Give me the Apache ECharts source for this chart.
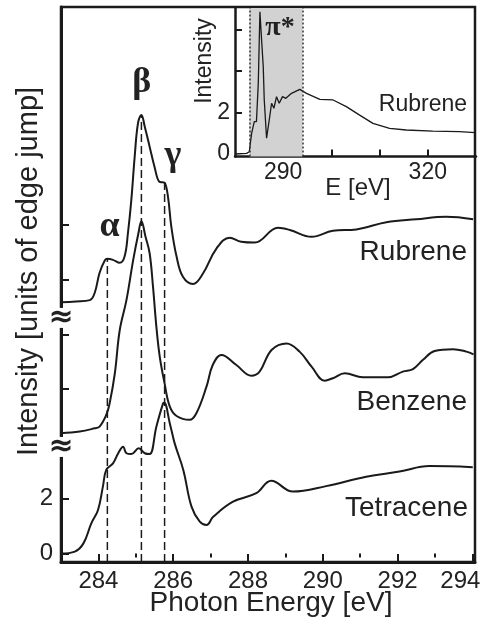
<!DOCTYPE html>
<html>
<head>
    <meta charset="utf-8">
    <title>NEXAFS spectra</title>
    <script type="text/javascript" src="https://cdn.jsdelivr.net/npm/echarts@6/dist/echarts.min.js"></script>
</head>
<style type="text/css">
    html, body { margin: 0; padding: 0; background: #fff; }
    #chart { width: 485px; height: 629px; }
</style>
<body>
    <div id="chart"></div>
    <script type="text/javascript">
        // main panel, intensity in units of edge jump (before offset)
        var tetraceneE = [283.0, 283.37, 283.6, 283.81, 283.99, 284.12, 284.21, 284.39, 284.53, 284.66, 284.75, 284.88, 285.08, 285.24, 285.37, 285.55, 285.73, 285.76, 285.91, 286.04, 286.27, 286.49, 286.71, 286.89, 287.07, 287.6, 288.22, 288.62, 289.2, 290.09, 291.16, 292.05, 292.85, 294.01];
        var tetraceneI = [0, 0.07, 0.37, 1.1, 1.59, 2.44, 3.05, 3.29, 3.66, 3.9, 3.66, 3.63, 3.84, 3.66, 3.63, 4.63, 5.48, 5.5, 4.75, 4.02, 3.05, 1.71, 1.16, 1.04, 1.34, 1.89, 2.2, 2.66, 2.26, 2.46, 2.8, 2.99, 3.19, 3.15];

        var benzeneE = [283.0, 283.5, 283.9, 284.03, 284.21, 284.3, 284.44, 284.57, 284.75, 284.93, 285.07, 285.15, 285.26, 285.37, 285.46, 285.55, 285.64, 285.77, 285.91, 286.09, 286.44, 286.62, 286.89, 287.06, 287.29, 287.69, 288.09, 288.31, 288.63, 289.03, 289.38, 289.7, 290.05, 290.27, 290.59, 291.07, 291.74, 292.14, 292.41, 292.68, 292.99, 293.48, 293.84, 294.03];
        var benzeneI = [0, 0.06, 0.18, 0.24, 0.67, 1.09, 2.19, 3.76, 4.86, 6.32, 7.3, 7.74, 7.17, 6.57, 5.35, 3.89, 2.8, 1.82, 0.97, 0.63, 0.49, 0.73, 1.7, 2.5, 2.86, 2.49, 2.1, 2.25, 3.04, 3.28, 2.98, 2.43, 1.92, 2.01, 2.19, 2.04, 2.04, 2.25, 2.34, 2.68, 3.0, 3.07, 2.98, 2.88];

        var rubreneE = [283.0, 283.4, 283.77, 283.9, 284.03, 284.17, 284.24, 284.39, 284.57, 284.7, 284.79, 284.88, 284.97, 285.06, 285.15, 285.24, 285.37, 285.5, 285.63, 285.72, 285.77, 285.86, 285.95, 286.09, 286.26, 286.53, 286.8, 287.16, 287.51, 287.82, 288.18, 288.8, 289.12, 289.7, 290.27, 290.9, 291.7, 292.5, 293.3, 294.02];
        var rubreneI = [0, 0.03, 0.08, 0.34, 1.07, 1.53, 1.59, 1.55, 1.44, 1.67, 2.53, 3.73, 5.31, 6.55, 6.84, 6.41, 5.68, 4.95, 4.4, 4.38, 4.37, 3.86, 2.76, 1.67, 0.93, 0.67, 1.06, 1.97, 2.36, 2.21, 2.18, 2.72, 2.64, 2.39, 2.61, 2.66, 2.92, 3.03, 3.12, 3.03];

        // vertical offsets of the stacked spectra
        var tetraceneOffset = 0;
        var benzeneOffset = 4.39;
        var rubreneOffset = 9.17;

        // resonances alpha, beta, gamma
        var peakNames = ['α', 'β', 'γ'];
        var peakE = [284.24, 285.15, 285.77];

        // inset: wide range rubrene spectrum
        var insetE = [280, 282.41, 282.96, 283.45, 284.0, 284.45, 284.83, 285.17, 285.52, 285.86, 286.07, 286.55, 287.1, 287.59, 288.07, 288.62, 289.17, 289.86, 290.55, 291.72, 293.45, 294.83, 297.6, 300.34, 303.1, 305.86, 308.62, 312.07, 315.52, 321.03, 326.55, 329.86];
        var insetI = [0, 0.03, 0.11, 1.0, 1.56, 1.56, 3.41, 6.87, 5.5, 4.22, 2.61, 0.76, 1.64, 2.45, 2.21, 2.77, 2.45, 2.77, 2.69, 2.93, 3.12, 2.93, 2.64, 2.61, 2.29, 1.88, 1.48, 1.24, 1.16, 1.11, 1.08, 1.03];
        var piStarRange = [283, 294];

        var xTicks = [284, 286, 288, 290, 292, 294];
        var xMinorTicks = [285, 287, 289, 291, 293];
        var yTicks = [0, 2, 6, 8, 10, 12];
        var yLabels = [0, 2];
        var breakValues = [3.89, 8.6];
        var insetXTicks = [290, 300, 310, 320];
        var insetXLabels = [290, 320];
        var insetYTicks = [2, 4, 6];
        var insetYLabels = [0, 2];

        function zip(xs, ys, off) {
            return xs.map(function (x, i) { return [x, ys[i] + (off || 0)]; });
        }

        var ink = '#1a1a1a';
        var sans = 'Liberation Sans, Arial, sans-serif';
        var serif = 'Liberation Serif, Times New Roman, serif';
        var yMin = -0.31;

        var dashSeries = peakE.map(function (e) {
            var top = rubreneI[rubreneE.indexOf(e)] + rubreneOffset;
            return {
                type: 'line', xAxisIndex: 0, yAxisIndex: 0, symbol: 'none', silent: true, z: 1,
                data: [[e, yMin], [e, top]],
                lineStyle: { color: ink, width: 1.5, type: [8, 4] }
            };
        });

        function spectrum(xs, ys, off) {
            return {
                type: 'line', xAxisIndex: 0, yAxisIndex: 0, symbol: 'none', z: 3,
                smooth: 0.4,
                data: zip(xs, ys, off),
                lineStyle: { color: ink, width: 2 }
            };
        }

        var chart = echarts.init(document.getElementById('chart'));

        var option = {
            animation: false,
            backgroundColor: '#fff',
            grid: [
                { left: 61, right: 10, top: 7, bottom: 67, outerBoundsMode: 'none', containLabel: false,
                  show: true, borderColor: ink, borderWidth: 2.5, backgroundColor: 'transparent' },
                { left: 235, right: 9, top: 8, bottom: 472.5, outerBoundsMode: 'none', containLabel: false }
            ],
            xAxis: [{
                gridIndex: 0, type: 'value', min: 283, max: 294.07,
                axisLine: { onZero: false, lineStyle: { color: ink, width: 3 } },
                axisTick: { inside: true, length: 8, customValues: xTicks, lineStyle: { color: ink, width: 2 } },
                axisLabel: {
                    customValues: xTicks, margin: 7, fontSize: 24, fontFamily: sans, color: '#222',
                    // last label is pulled inside the frame, as in the original
                    formatter: function (v) { return v === 294 ? '{last|294}' : String(v); },
                    rich: { last: { fontSize: 24, fontFamily: sans, color: '#222', padding: [0, 24, 0, 0] } }
                },
                splitLine: { show: false }
            }, {
                gridIndex: 0, type: 'value', min: 283, max: 294.07,
                axisLine: { show: false },
                axisTick: { inside: true, length: 4, customValues: xMinorTicks, lineStyle: { color: ink, width: 2 } },
                axisLabel: { show: false },
                splitLine: { show: false }
            }, {
                gridIndex: 1, type: 'value', min: 280, max: 330,
                axisLine: { onZero: false, lineStyle: { color: ink, width: 2.5 } },
                axisTick: { inside: true, length: 7, customValues: insetXTicks, lineStyle: { color: ink, width: 2 } },
                axisLabel: { customValues: insetXLabels, margin: 5, fontSize: 23, fontFamily: sans, color: '#222' },
                splitLine: { show: false }
            }],
            yAxis: [{
                gridIndex: 0, type: 'value', min: yMin, max: 19.95,
                axisLine: { show: true, onZero: false, lineStyle: { color: ink, width: 3 } },
                axisTick: { show: true, inside: true, length: 8, customValues: yTicks, lineStyle: { color: ink, width: 2 } },
                axisLabel: { customValues: yLabels, margin: 8, fontSize: 24, fontFamily: sans, color: '#222' },
                splitLine: { show: false }
            }, {
                gridIndex: 1, type: 'value', min: -0.12, max: 7.05,
                axisLine: { show: true, onZero: false, lineStyle: { color: ink, width: 2.5 } },
                axisTick: { show: true, inside: true, length: 7, customValues: insetYTicks, lineStyle: { color: ink, width: 2 } },
                axisLabel: { customValues: insetYLabels, margin: 5, fontSize: 23, fontFamily: sans, color: '#222' },
                splitLine: { show: false }
            }],
            series: dashSeries.concat([
                spectrum(tetraceneE, tetraceneI, tetraceneOffset),
                spectrum(benzeneE, benzeneI, benzeneOffset),
                spectrum(rubreneE, rubreneI, rubreneOffset),
                {
                    type: 'line', xAxisIndex: 2, yAxisIndex: 1, symbol: 'none', z: 3,
                    data: zip(insetE, insetI),
                    lineStyle: { color: ink, width: 1.3 },
                    markArea: {
                        silent: true,
                        itemStyle: { color: '#d2d2d2' },
                        data: [[{ xAxis: piStarRange[0] }, { xAxis: piStarRange[1] }]]
                    },
                    markLine: {
                        silent: true, symbol: 'none',
                        label: { show: false },
                        lineStyle: { color: '#333', width: 1.5, type: [2, 2] },
                        data: [{ xAxis: piStarRange[0] }, { xAxis: piStarRange[1] }]
                    }
                }
            ])
        };
        chart.setOption(option);

        // annotations
        function txt(x, y, s, font, align, rot) {
            return {
                type: 'text', x: x, y: y, rotation: rot || 0, z: 10,
                style: { text: s, x: 0, y: 0, font: font, fill: '#222', textAlign: align || 'center', textVerticalAlign: 'middle' }
            };
        }
        var g = [];
        breakValues.forEach(function (v) {
            var p = chart.convertToPixel({ gridIndex: 0 }, [283, v]);
            g.push({ type: 'rect', x: p[0] - 6, y: p[1] - 10, shape: { width: 12, height: 20 }, style: { fill: '#fff' }, z: 9 });
            g.push(txt(p[0], p[1], '≈', 'bold 30px DejaVu Sans', 'center'));
        });
        var labelY = [227, 83, 156];
        var labelX = [109.5, 141.7, 173];
        peakNames.forEach(function (n, i) {
            g.push(txt(labelX[i], labelY[i], n, 'bold 36px ' + serif, 'center'));
        });
        g.push(txt(280, 28, 'π*', 'bold 28px ' + serif, 'center'));
        g.push(txt(467, 252, 'Rubrene', '28px ' + sans, 'right'));
        g.push(txt(467, 402, 'Benzene', '28px ' + sans, 'right'));
        g.push(txt(468, 508.5, 'Tetracene', '28px ' + sans, 'right'));
        g.push(txt(467, 105, 'Rubrene', '23px ' + sans, 'right'));
        g.push(txt(205, 61, 'Intensity', '23px ' + sans, 'center', Math.PI / 2));
        g.push(txt(29, 271.5, 'Intensity [units of edge jump]', '29px ' + sans, 'center', Math.PI / 2));
        g.push(txt(271, 603, 'Photon Energy [eV]', '28px ' + sans, 'center'));
        g.push(txt(358, 188, 'E [eV]', '24px ' + sans, 'center'));
        chart.setOption({ graphic: g });
    </script>
</body>
</html>
